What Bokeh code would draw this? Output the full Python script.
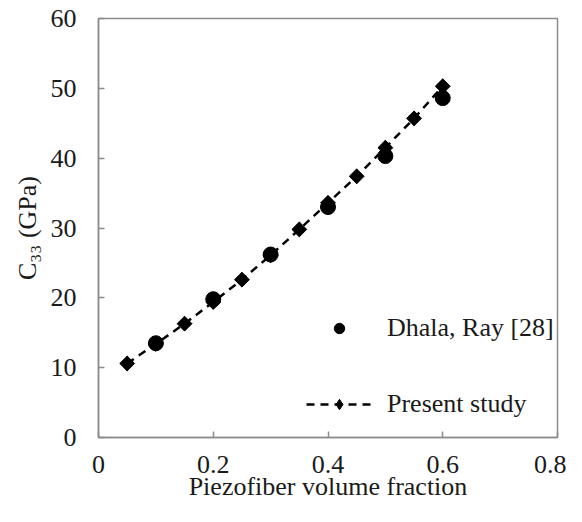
import math
from bokeh.plotting import figure
from bokeh.models import Legend, LegendItem, Range1d, FixedTicker
from bokeh.embed import file_html
from bokeh.resources import INLINE

dhala_x = [0.1, 0.2, 0.3, 0.4, 0.5, 0.6]
dhala_y = [13.5, 19.8, 26.2, 33.0, 40.3, 48.6]
present_x = [0.05, 0.1, 0.15, 0.2, 0.25, 0.3, 0.35, 0.4, 0.45, 0.5, 0.55, 0.6]
present_y = [10.6, 13.4, 16.3, 19.4, 22.6, 26.1, 29.8, 33.6, 37.4, 41.5, 45.7, 50.3]
x_ticks = [0, 0.2, 0.4, 0.6, 0.8]
y_ticks = [0, 10, 20, 30, 40, 50, 60]
x_title = "Piezofiber volume fraction"
y_title = "C\u2083\u2083 (GPa)"

FONT = "Liberation Serif"
GRAY = "#8c8c8c"
TXT = "#1a1a1a"
FS = "26px"

p = figure(width=566, height=506, output_backend="svg", toolbar_location=None,
           x_range=Range1d(0, 0.8), y_range=Range1d(0, 60),
           min_border_left=98, min_border_right=9, min_border_top=18, min_border_bottom=69)
p.grid.visible = False
p.outline_line_color = GRAY
p.outline_line_width = 1.5
p.background_fill_color = "white"
p.border_fill_color = "white"

for ax in (p.xaxis[0], p.yaxis[0]):
    ax.axis_line_color = GRAY
    ax.axis_line_width = 1.5
    ax.major_tick_line_color = GRAY
    ax.major_tick_line_width = 1.5
    ax.major_tick_in = 6
    ax.major_tick_out = 0
    ax.minor_tick_line_color = None
    ax.major_label_text_font = FONT
    ax.major_label_text_font_size = FS
    ax.major_label_text_color = TXT
    ax.axis_label_text_font = FONT
    ax.axis_label_text_font_size = FS
    ax.axis_label_text_font_style = "normal"
    ax.axis_label_text_color = TXT

p.xaxis.ticker = FixedTicker(ticks=x_ticks)
p.yaxis.ticker = FixedTicker(ticks=y_ticks)
p.xaxis.major_label_overrides = {0: "0", 0.2: "0.2", 0.4: "0.4", 0.6: "0.6", 0.8: "0.8"}
p.xaxis.major_label_standoff = 18
p.yaxis.major_label_standoff = 22
p.xaxis.axis_label = x_title
p.yaxis.axis_label = y_title
p.xaxis.axis_label_standoff = -4
p.yaxis.axis_label_standoff = 6

r_line = p.line(present_x, present_y, line_color="black", line_width=2.5, line_dash="8 6")
r_dia = p.scatter(present_x, present_y, marker="square", angle=math.pi / 4, size=10.5, color="black")
# plain diamond drawn at the same points (covered by the rotated squares); used for the legend glyph
r_dia_leg = p.scatter(present_x, present_y, marker="diamond", size=14, color="black")
r_circ = p.scatter(dhala_x, dhala_y, marker="circle", size=15, color="black")

legend = Legend(items=[LegendItem(label="Dhala, Ray [28]", renderers=[r_circ]),
                       LegendItem(label="Present study", renderers=[r_line, r_dia_leg])],
                location=(208, 18), orientation="vertical",
                glyph_width=66, glyph_height=26, spacing=46, label_standoff=15,
                label_text_font=FONT, label_text_font_size=FS, label_text_color=TXT,
                border_line_color=None, background_fill_alpha=0, padding=0, margin=0)
p.add_layout(legend)

open("out.html", "w").write(file_html(p, INLINE))
